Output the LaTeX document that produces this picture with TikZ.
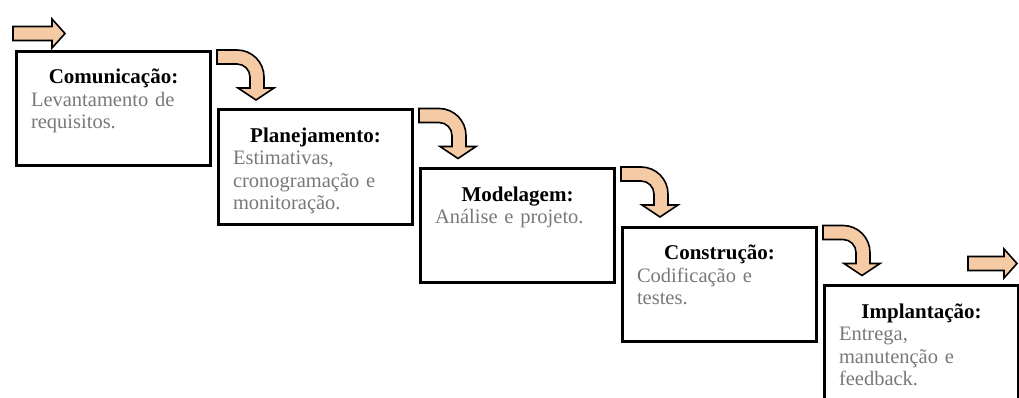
\documentclass[tikz,border=0pt]{standalone}
\usepackage{fontspec}
\setmainfont{Liberation Serif}
\usepackage{xcolor}
\usetikzlibrary{positioning,calc}

\definecolor{arrowfill}{RGB}{245,203,165}
\definecolor{bodygray}{RGB}{120,120,120}

\newcommand{\phase}[2]{{\centering\fontsize{21pt}{22.5pt}\selectfont\bfseries #1\par}{\color{bodygray}#2\par}}
\newcommand{\turnarrow}[1]{%
  \draw[blockarrow] ($(#1.north east)+(5,0)$) -- ++(20,0)
    arc[start angle=90,end angle=0,radius=27pt] -- ++(0,-11) -- ++(10,0)
    -- ++(-18,-12) -- ++(-18,12) -- ++(12,0) -- ++(0,11)
    arc[start angle=0,end angle=90,radius=13pt] -- ++(-20,0) -- cycle;}
\newcommand{\flatarrow}[2]{%
  \draw[blockarrow] (#1) -- ++(0,7) -- ++(#2,0) -- ++(0,7.5) -- ++(13,-14.5)
    -- ++(-13,-14.5) -- ++(0,7.5) -- ++(-#2,0) -- cycle;}

\begin{document}
\begin{tikzpicture}[
    x=1pt,y=1pt,
    box/.style={rectangle,draw,line width=3pt,minimum width=194pt,minimum height=114pt},
    phasetext/.style={text width=165pt,align=left,inner sep=0pt,font=\fontsize{20.5pt}{22.5pt}\selectfont},
    blockarrow/.style={draw=black,fill=arrowfill,line width=1.6pt,line join=miter}
]
\useasboundingbox (0,0) rectangle (1019,-398);

\node[box,anchor=north west] (comm) at (15,-50) {};
\node[box,right=5pt of comm.east,anchor=north west] (plan) {};
\node[box,right=5pt of plan.east,anchor=north west] (model) {};
\node[box,right=5pt of model.east,anchor=north west] (constr) {};
\node[box,right=5pt of constr.east,anchor=north west] (impl) {};

\node[phasetext,below=34pt of comm.north,anchor=base] (comm-txt)
  {\phase{Comunicação:}{Levantamento de\\requisitos.}};
\node[phasetext,below=34pt of plan.north,anchor=base] (plan-txt)
  {\phase{Planejamento:}{Estimativas,\\cronogramação e\\monitoração.}};
\node[phasetext,below=34pt of model.north,anchor=base] (model-txt)
  {\phase{Modelagem:}{Análise e projeto.}};
\node[phasetext,below=34pt of constr.north,anchor=base] (constr-txt)
  {\phase{Construção:}{Codificação e\\testes.}};
\node[phasetext,below=34pt of impl.north,anchor=base] (impl-txt)
  {\phase{Implantação:}{Entrega,\\manutenção e\\feedback.}};

\coordinate[above left=16.5pt and 2pt of comm.north west] (start);
\coordinate[above left=20.5pt and 52pt of impl.north east] (finish);

\flatarrow{start}{39}
\turnarrow{comm}
\turnarrow{plan}
\turnarrow{model}
\turnarrow{constr}
\flatarrow{finish}{36}
\end{tikzpicture}
\end{document}
